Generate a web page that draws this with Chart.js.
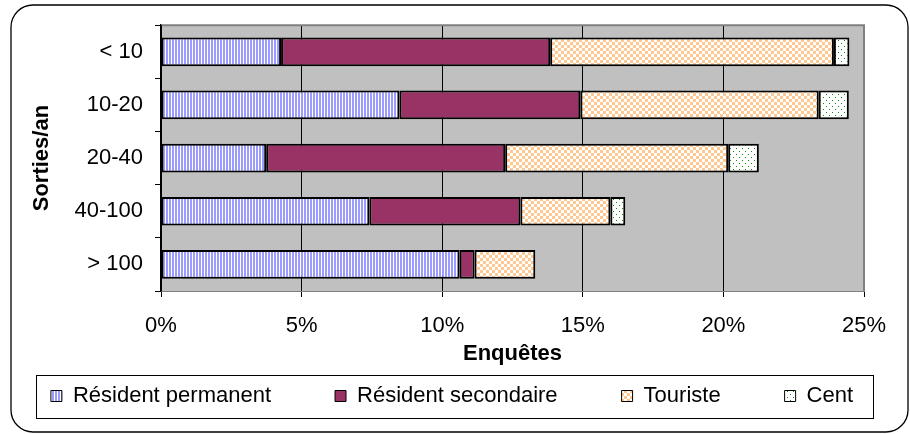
<!DOCTYPE html>
<html>
<head>
<meta charset="utf-8">
<script src="https://cdn.jsdelivr.net/npm/chart.js@4.4.0/dist/chart.umd.min.js"></script>
<style>
  html, body { margin: 0; padding: 0; background: #fff; }
</style>
</head>
<body>
<canvas id="chart" width="910" height="434"></canvas>
<script>
// categories (top to bottom) and series, in % of surveys
const categories = ['< 10', '10-20', '20-40', '40-100', '> 100'];
const residentPermanent = [4.27, 8.48, 3.74, 7.41, 10.62];
const residentSecondaire = [9.57, 6.43, 8.50, 5.37, 0.53];
const touriste = [10.09, 8.48, 7.93, 3.20, 2.16];
const cent = [0.55, 1.07, 1.09, 0.53, 0];
const xTicks = [0, 5, 10, 15, 20, 25];

const canvas = document.getElementById('chart');
const ctx = canvas.getContext('2d');

function makePattern(w, h, draw) {
    const c = document.createElement('canvas');
    c.width = w; c.height = h;
    const g = c.getContext('2d');
    g.fillStyle = '#fff';
    g.fillRect(0, 0, w, h);
    draw(g);
    return ctx.createPattern(c, 'repeat');
}

const stripes = makePattern(3, 1, g => { g.fillStyle = '#9c9cff'; g.fillRect(1, 0, 2, 1); });
const checker = makePattern(6, 6, g => {
    g.fillStyle = '#ffc890';
    g.fillRect(0, 0, 3, 3);
    g.fillRect(3, 3, 3, 3);
});
const dots = makePattern(6, 6, g => {
    g.fillStyle = '#108a10';
    g.fillRect(1, 1, 1, 1);
    g.fillRect(4, 4, 1, 1);
});

Chart.defaults.font.family = '"Liberation Sans", Arial, sans-serif';
Chart.defaults.font.size = 22;
Chart.defaults.color = '#000';

const LEGEND_ITEM_TOP = 385;

// page bg, grey plot area, rounded frame and legend box
const decor = {
    id: 'decor',
    beforeLayout(chart) {
        // let the legend row be wider than the plot so items keep one line
        const lg = chart.legend;
        if (lg && !lg._wide) {
            const up = lg.update.bind(lg);
            lg.update = (w, h, m) => up(1000, h, m);
            lg._wide = true;
        }
    },
    beforeDraw(chart) {
        const { ctx, chartArea: a } = chart;
        ctx.save();
        ctx.fillStyle = '#fff';
        ctx.fillRect(0, 0, chart.width, chart.height);
        ctx.fillStyle = '#c0c0c0';
        ctx.fillRect(a.left, a.top, a.right - a.left, a.bottom - a.top);
        ctx.restore();
    },
    afterLayout(chart) {
        // move legend items down into their box, centred on x = 452
        const lg = chart.legend;
        const pad = lg.options.labels.padding;
        lg.left = -100; lg.right = 1004; lg.width = 1104;
        lg.top = LEGEND_ITEM_TOP - pad;
        lg.bottom = chart.height;
        lg.height = lg.bottom - lg.top;
    },
    afterDraw(chart) {
        const { ctx, chartArea: a } = chart;
        ctx.save();
        ctx.strokeStyle = '#808080';
        ctx.lineWidth = 2;
        ctx.beginPath();
        ctx.moveTo(a.left + 1, a.top);
        ctx.lineTo(a.right, a.top);
        ctx.lineTo(a.right, a.bottom);
        ctx.stroke();

        // legend border
        const hb = chart.legend.legendHitBoxes;
        if (hb && hb.length) {
            const l = hb[0].left - 15;
            const r = hb[hb.length - 1].left + hb[hb.length - 1].width + 20;
            const t = hb[0].top - 10;
            const b = hb[0].top + hb[0].height + 11;
            ctx.strokeStyle = '#000';
            ctx.lineWidth = 1;
            ctx.strokeRect(Math.round(l) + 0.5, Math.round(t) + 0.5, Math.round(r - l), Math.round(b - t));
        }

        // outer rounded frame
        const x0 = 11, y0 = 5, x1 = 908, y1 = 432, rad = 22;
        ctx.strokeStyle = '#000';
        ctx.lineWidth = 1.3;
        ctx.beginPath();
        ctx.moveTo(x0 + rad, y0);
        ctx.lineTo(x1 - rad, y0);
        ctx.arcTo(x1, y0, x1, y0 + rad, rad);
        ctx.lineTo(x1, y1 - rad);
        ctx.arcTo(x1, y1, x1 - rad, y1, rad);
        ctx.lineTo(x0 + rad, y1);
        ctx.arcTo(x0, y1, x0, y1 - rad, rad);
        ctx.lineTo(x0, y0 + rad);
        ctx.arcTo(x0, y0, x0 + rad, y0, rad);
        ctx.stroke();
        ctx.restore();
    }
};

const barStyle = { borderColor: '#000', borderWidth: 2, borderSkipped: false };

new Chart(ctx, {
    type: 'bar',
    data: {
        labels: categories,
        datasets: [
            { label: 'Résident permanent', data: residentPermanent, backgroundColor: stripes, ...barStyle },
            { label: 'Résident secondaire', data: residentSecondaire, backgroundColor: '#993366', ...barStyle },
            { label: 'Touriste', data: touriste, backgroundColor: checker, ...barStyle },
            { label: 'Cent', data: cent, backgroundColor: dots, ...barStyle }
        ]
    },
    options: {
        indexAxis: 'y',
        responsive: false,
        animation: false,
        devicePixelRatio: 1,
        layout: { padding: { left: 23, right: 46, top: 24, bottom: 0 } },
        datasets: { bar: { categoryPercentage: 1, barPercentage: 0.54 } },
        scales: {
            x: {
                stacked: true,
                min: 0, max: 25,
                afterBuildTicks: s => { s.ticks = xTicks.map(v => ({ value: v })); },
                afterFit: s => { s.height = 80.2; },
                ticks: { padding: 16, callback: v => v + '%' },
                grid: { color: '#000', lineWidth: 1, tickLength: 6 },
                border: { color: '#808080', width: 1 },
                title: { display: true, text: 'Enquêtes', font: { weight: 'bold', size: 22 } }
            },
            y: {
                stacked: true,
                afterFit: s => { s.width = 138; },
                ticks: { padding: 12 },
                grid: { offset: true, drawOnChartArea: false, color: '#000', tickLength: 6 },
                border: { color: '#000', width: 1.5 },
                title: { display: true, text: 'Sorties/an', font: { weight: 'bold', size: 22 }, padding: { top: 6, bottom: 4 } }
            }
        },
        plugins: {
            tooltip: { enabled: false },
            legend: {
                position: 'bottom',
                maxHeight: 62.8,
                labels: {
                    boxWidth: 11,
                    boxHeight: 11,
                    padding: 64,
                    font: { size: 22 },
                    generateLabels: chart => Chart.defaults.plugins.legend.labels.generateLabels(chart)
                        .map(l => ({ ...l, lineWidth: 1, strokeStyle: '#000' }))
                }
            }
        }
    },
    plugins: [decor]
});
</script>
</body>
</html>
